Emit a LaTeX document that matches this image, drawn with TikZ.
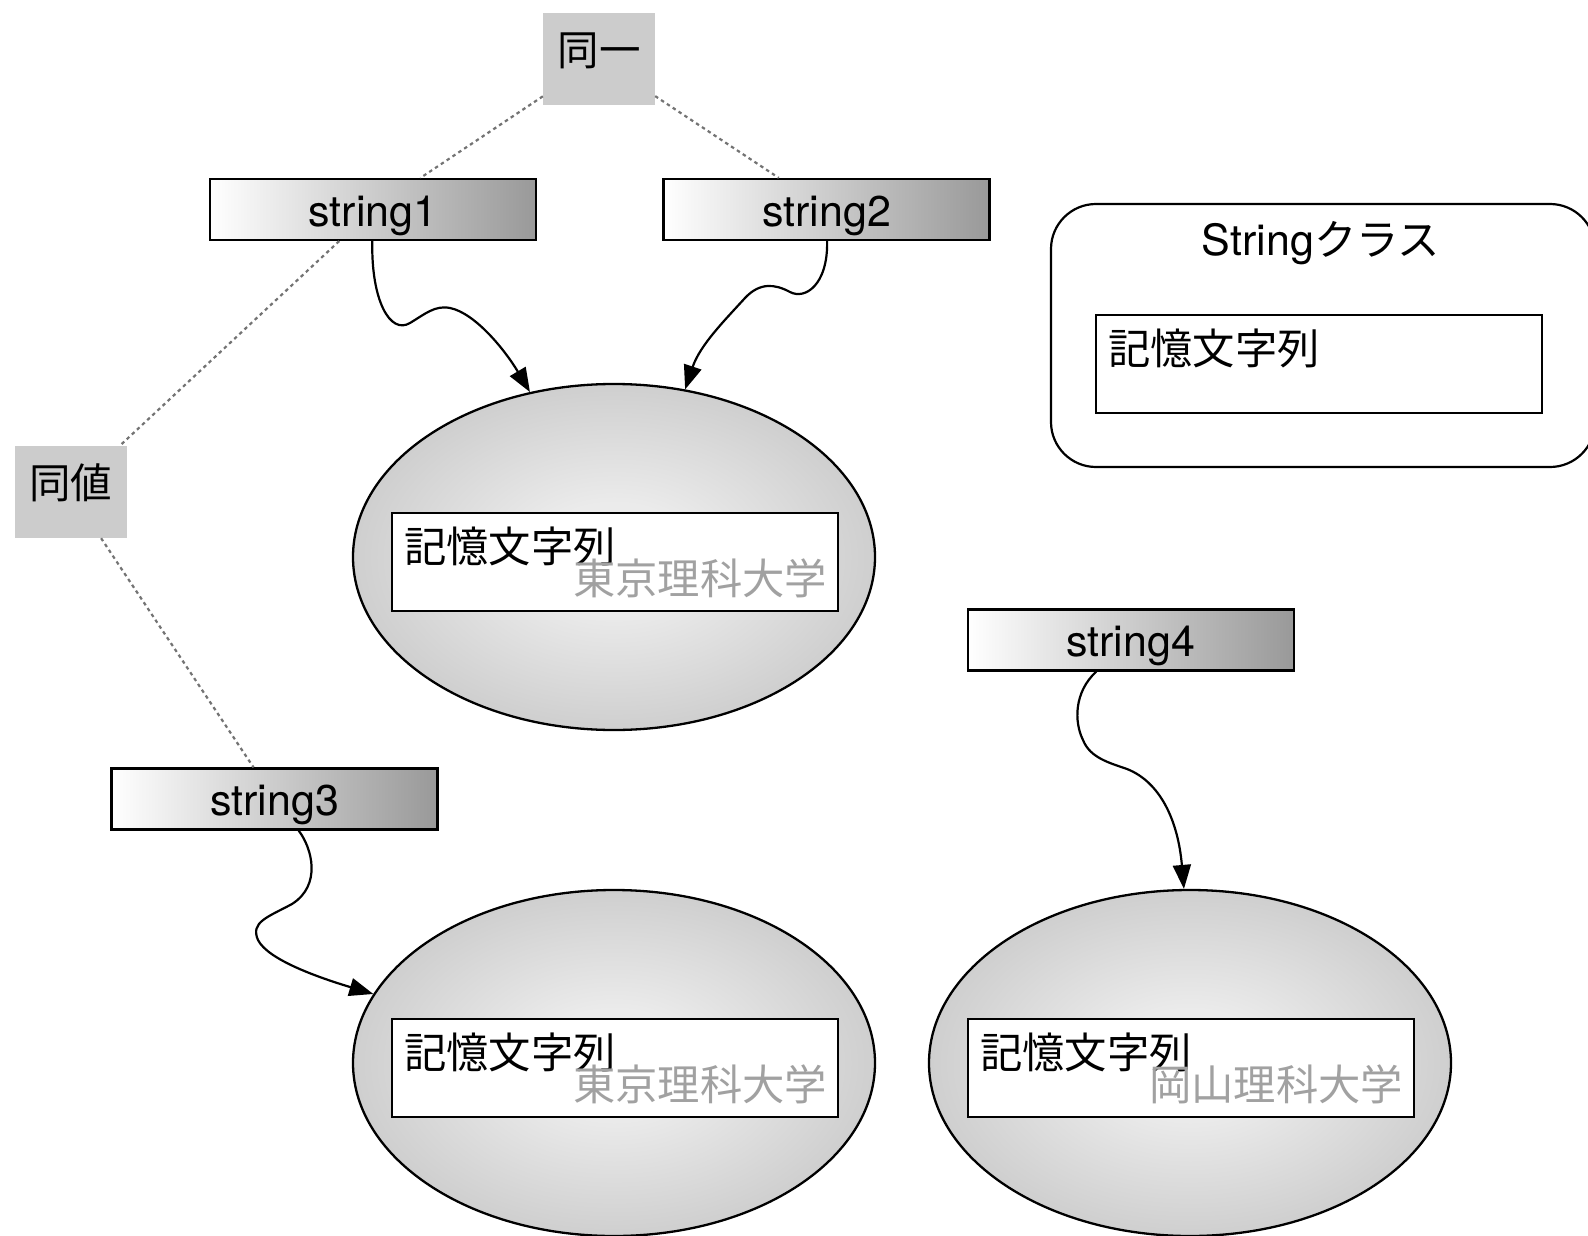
\documentclass[tikz,border=0pt]{standalone}
\usepackage{fontspec}
\setmainfont{TeX Gyre Heros}
\newfontfamily\jp{Noto Sans CJK JP}
\usetikzlibrary{shapes.geometric,arrows.meta,calc}
\pgfdeclareradialshading{ballshade}{\pgfpoint{0bp}{0bp}}{rgb(0bp)=(0.93,0.93,0.93);rgb(8bp)=(0.92,0.92,0.92);rgb(50bp)=(0.65,0.65,0.65);rgb(75bp)=(0.65,0.65,0.65)}
\begin{document}
\begin{tikzpicture}[x=1pt,y=-1pt,
  every node/.style={font=\fontsize{43pt}{50pt}\selectfont, inner sep=0pt},
  strbox/.style={draw=black, line width=2.2pt, left color=white, right color=black!40, minimum width=326pt, minimum height=61pt, text height=33pt, text depth=0pt},
  tagbox/.style={fill=black!20, minimum width=112pt, minimum height=92pt, text height=36pt, text depth=22.4pt, font=\jp\fontsize{41.5pt}{50pt}\selectfont},
  obj/.style={ellipse, draw=black, line width=2.3pt, shading=ballshade, minimum width=522pt, minimum height=346pt},
  membox/.style={draw=black, line width=2.2pt, fill=white, minimum width=446pt, minimum height=98pt},
  memlabel/.style={anchor=base west, font=\jp\fontsize{42.3pt}{50pt}\selectfont},
  vallabel/.style={anchor=base east, text=black!37, font=\jp\fontsize{42.3pt}{50pt}\selectfont},
  ref/.style={-{Triangle[length=24pt,width=18pt]}, line width=2.2pt},
  dotline/.style={draw=black!55, line width=2.2pt, dash pattern=on 3.5pt off 3.5pt}
]
\useasboundingbox (0,0) rectangle (1588,1236);

% class box
\node[draw=black, line width=2.2pt, rounded corners=45pt, minimum width=544pt, minimum height=263pt] (cls) at (1323,335.5) {};
\node[anchor=base] (clsname) at (1321,255) {String{\jp\fontsize{42.3pt}{50pt}\selectfont クラス}};
\node[membox] (m0) at (1319,364) {};
\node[memlabel] (m0l) at ($(m0.north west)+(13,50.5)$) {記憶文字列};

% tag boxes
\node[tagbox] (same) at (599,59) {同一};
\node[tagbox] (eqv) at (70.5,492) {同値};

% variables
\node[strbox] (s1) at (373,209.5) {string1};
\node[strbox] (s2) at (826.5,209.5) {string2};
\node[strbox] (s3) at (274.5,799) {string3};
\node[strbox] (s4) at (1130.7,640) {string4};

% objects
\node[obj] (e1) at (614,557) {};
\node[membox] (m1) at (615,562) {};
\node[memlabel] (m1l) at ($(m1.north west)+(13,50.5)$) {記憶文字列};
\node[vallabel] (m1v) at ($(m1.north east)+(-12,83)$) {東京理科大学};

\node[obj] (e2) at (614,1063) {};
\node[membox] (m2) at (615,1068) {};
\node[memlabel] (m2l) at ($(m2.north west)+(13,50.5)$) {記憶文字列};
\node[vallabel] (m2v) at ($(m2.north east)+(-12,83)$) {東京理科大学};

\node[obj] (e3) at (1190,1063) {};
\node[membox] (m3) at (1191,1068) {};
\node[memlabel] (m3l) at ($(m3.north west)+(13,50.5)$) {記憶文字列};
\node[vallabel] (m3v) at ($(m3.north east)+(-12,83)$) {岡山理科大学};

% dotted relations
\draw[dotline] (same) -- (s1);
\draw[dotline] (same) -- (s2);
\draw[dotline] (s1) -- (eqv);
\draw[dotline] (eqv) -- (s3);

% references
\draw[ref] (s1) .. controls (371,300) and (390,335) .. (410,323)
  .. controls (425,314) and (435,305) .. (450,308)
  .. controls (475,313) and (505,350) .. (e1.117);
\draw[ref] (s2) .. controls (828,285) and (805,300) .. (790,292)
  .. controls (775,284) and (760,282) .. (745,298)
  .. controls (725,320) and (700,345) .. (e1.67);
\draw[ref] (s3) .. controls (312,848) and (322,885) .. (292,904)
  .. controls (268,917) and (250,922) .. (258,940)
  .. controls (268,960) and (320,978) .. (e2.164);
\draw[ref] (s4) .. controls (1074,692) and (1074,722) .. (1083,740)
  .. controls (1090,758) and (1110,763) .. (1127,769)
  .. controls (1160,782) and (1178,820) .. (e3.92);
\end{tikzpicture}
\end{document}
